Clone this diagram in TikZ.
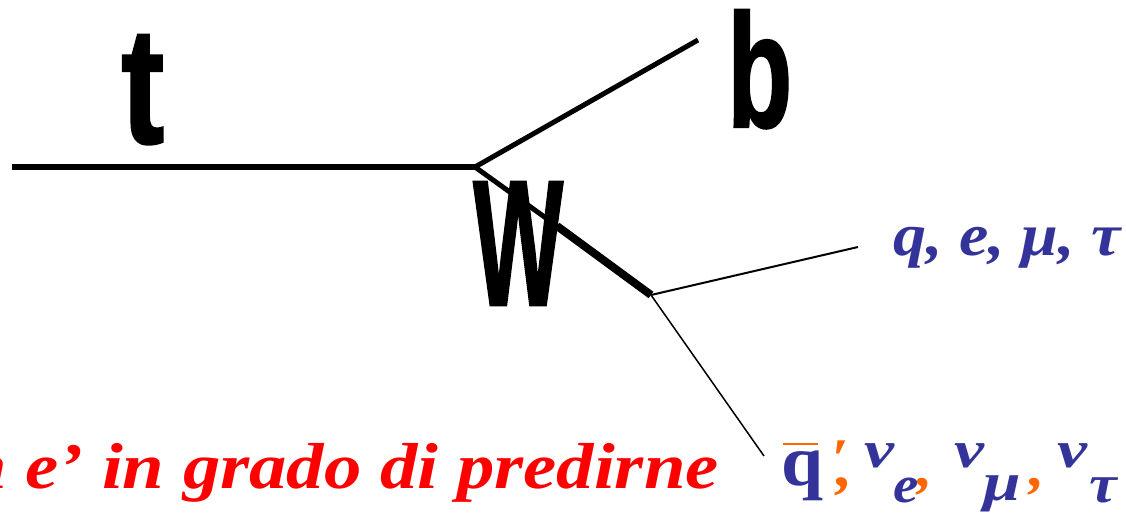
\documentclass[tikz,border=0pt]{standalone}
\usepackage{fontspec}
\setmainfont{Liberation Serif}
\newfontfamily\heavysans{Liberation Sans}[FakeBold=1.5]
\definecolor{qblue}{RGB}{51,51,153}
\definecolor{qorange}{RGB}{255,102,0}
\definecolor{qred}{RGB}{255,0,0}
\newcommand{\bilab}[3]{\scalebox{#1}[1]{\fontsize{#2}{#2}\selectfont\bfseries\itshape #3}}
\begin{document}
\begin{tikzpicture}[x=1pt,y=-1pt,
  bigletter/.style={inner sep=0pt,anchor=base west},
  lab/.style={inner sep=0pt,anchor=base west}]
\useasboundingbox (0,0) rectangle (1126,513);
% vertices
\coordinate (tL) at (12,167);
\coordinate (V) at (475,167);
\coordinate (bE) at (698,40);
\coordinate (Wm) at (557,226);
\coordinate (WE) at (651,295);
\coordinate (qE) at (858,247);
\coordinate (nuE) at (764,456);
% lines
\draw[line width=5.5pt] (tL) -- (V);
\draw[line width=5pt] (V) -- (bE);
\draw[line width=5pt] (V) -- (Wm);
\draw[line width=8pt] (Wm) -- (WE);
\draw[line width=2pt] (WE) -- (qE);
\draw[line width=1.5pt] (WE) -- (nuE);
% big letters
\node[bigletter] (tlab) at (121,143) {\resizebox{43pt}{108pt}{\heavysans\bfseries t}};
\node[bigletter] (blab) at (727,127) {\resizebox{65pt}{117pt}{\heavysans\bfseries b}};
\node[bigletter] (wlab) at (473,305) {\resizebox{90pt}{123pt}{\heavysans\bfseries W}};
% top right label
\node[lab,text=qblue] (qlab) at (893,255) {\bilab{1.1}{60}{q, e, μ, τ}};
% red text
\node[lab,text=qred,anchor=base east] (red) at (719,488) {\bilab{1.15}{65}{n e’ in grado di predirne}};
% bottom label
\node[lab,text=qblue] (qb) at (781,485) {\scalebox{1.05}[1]{\fontsize{72}{72}\selectfont\bfseries q}};
\draw[qorange,line width=1.6pt] (783,444) -- (818,444);
\node[lab,text=qorange] (pr) at (831,477) {\bilab{1.1}{56}{′}};
\node[lab,text=qorange] (c1) at (836,486) {\bilab{1.1}{60}{,}};
\node[lab,text=qblue] (nu1) at (864,467) {\bilab{1.3}{52}{ν}};
\node[lab,text=qblue] (se) at (893,502) {\bilab{1.1}{52}{e}};
\node[lab,text=qorange] (c2) at (917,486) {\bilab{1.1}{56}{,}};
\node[lab,text=qblue] (nu2) at (954,467) {\bilab{1.3}{52}{ν}};
\node[lab,text=qblue] (smu) at (983,500) {\bilab{1.25}{54}{μ}};
\node[lab,text=qorange] (c3) at (1029,486) {\bilab{1.1}{56}{,}};
\node[lab,text=qblue] (nu3) at (1057,467) {\bilab{1.3}{52}{ν}};
\node[lab,text=qblue] (stau) at (1089,502) {\bilab{1.15}{54}{τ}};
\end{tikzpicture}
\end{document}
